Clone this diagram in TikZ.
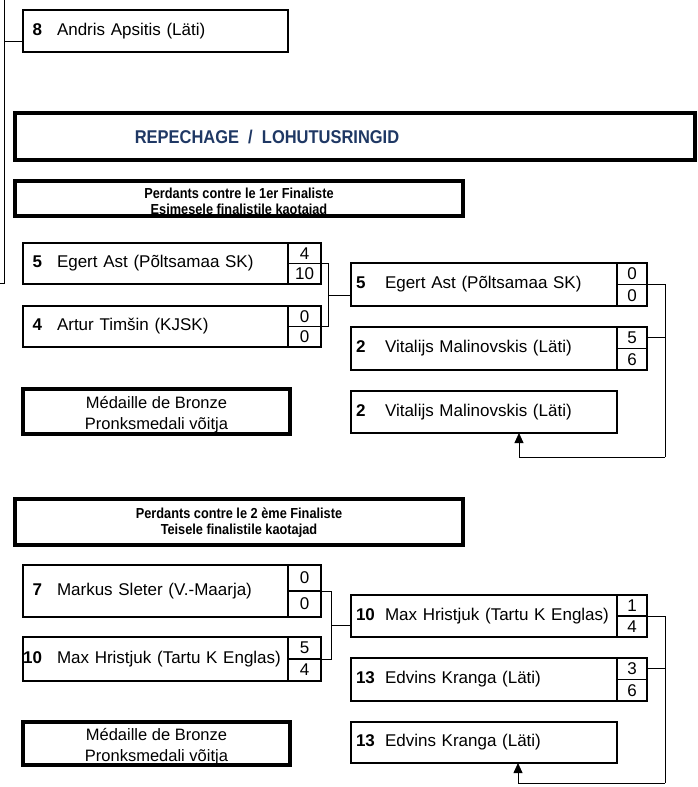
\documentclass[tikz,border=0pt]{standalone}
\usepackage{fontspec}
\usepackage{graphicx}
\setmainfont{Liberation Sans}
\usetikzlibrary{arrows.meta,calc,positioning}

\definecolor{repblue}{RGB}{31,56,100}

\newcommand{\seedL}[1]{\makebox[14pt][r]{\textbf{#1}}\hspace{15pt}}
\newcommand{\seedR}[1]{\makebox[29pt][l]{\textbf{#1}}}
\newcommand{\narrow}[1]{\scalebox{0.88}[1]{#1}}

\begin{document}
\begin{tikzpicture}[
    x=1pt, y=-1pt,
    every node/.style={font=\fontsize{17}{19}\selectfont},
    player/.style={rectangle, draw, line width=1.8pt, anchor=north west, outer sep=0pt,
        minimum width=265pt, minimum height=#1, text width=255pt, inner xsep=5pt, inner ysep=0pt, align=left},
    playerR/.style={player=#1, minimum width=266pt, text width=256pt},
    score/.style={rectangle, draw, line width=1.5pt, anchor=north west, outer sep=0pt,
        minimum width=33pt, minimum height=#1, inner sep=0pt},
    scoreR/.style={score=#1, minimum width=30pt},
    banner/.style={rectangle, draw, line width=4.5pt, anchor=north west, outer sep=0pt},
    htext/.style={font=\bfseries\fontsize{14.5}{16}\selectfont, align=center, inner sep=0pt},
    medal/.style={rectangle, draw, line width=4pt, anchor=north west, outer sep=0pt, minimum width=267pt},
    mtext/.style={font=\fontsize{16.5}{21}\selectfont, align=center, inner sep=0pt},
    link/.style={line width=0.8pt},
    arrow/.style={line width=0.8pt, -{Triangle[width=9pt,length=10pt]}}
]
\useasboundingbox (0,0) rectangle (697,787);

% reste du tableau principal
\coordinate (ltop) at (4,0);
\coordinate (lbot) at (4,283);
\coordinate (lend) at (0,283);
\node[player=42pt] (a8) at (23,10) {\seedL{8}Andris Apsitis (Läti)};
\draw[link] (ltop) -- (lbot) -- (lend);
\draw[link] ([yshift=-10pt]a8.west) -- ([yshift=-10pt]a8.west -| ltop);

% titre
\node[banner, minimum width=680pt, minimum height=47pt] (repbox) at (15,113) {};
\node[font=\bfseries\fontsize{18.5}{20}\selectfont, text=repblue] (reptxt) at (267,137)
    {\scalebox{0.89}[1]{REPECHAGE~~/~~LOHUTUSRINGID}};

% premier groupe
\node[banner, minimum width=448pt, minimum height=35pt] (h1box) at (15,181) {};
\node[htext] (h1txt) at (239,202.5) {\narrow{Perdants contre le 1er Finaliste}\\\narrow{Esimesele finalistile kaotajad}};

\node[player=41pt] (l1) at (23,243) {\seedL{5}Egert Ast (Põltsamaa SK)};
\node[score=20.5pt] (l1a) at (l1.north east) {4};
\node[score=20.5pt] (l1b) at (l1a.south west) {10};
\node[player=41pt] (l2) at (23,306) {\seedL{4}Artur Timšin (KJSK)};
\node[score=20.5pt] (l2a) at (l2.north east) {0};
\node[score=20.5pt] (l2b) at (l2a.south west) {0};

\node[playerR=43pt] (r1) at (351,263) {\seedR{5}Egert Ast (Põltsamaa SK)};
\node[scoreR=21.5pt] (r1a) at (r1.north east) {0};
\node[scoreR=21.5pt] (r1b) at (r1a.south west) {0};
\node[playerR=43pt] (r2) at (351,327) {\seedR{2}Vitalijs Malinovskis (Läti)};
\node[scoreR=21.5pt] (r2a) at (r2.north east) {5};
\node[scoreR=21.5pt] (r2b) at (r2a.south west) {6};

\node[medal, minimum height=45pt] (m1) at (23,389) {};
\node[mtext] (m1txt) at ([yshift=-3pt]m1.center) {Médaille de Bronze\\Pronksmedali võitja};
\node[playerR=42pt] (f1) at (351,391) {\seedR{2}Vitalijs Malinovskis (Läti)};

\draw[link] (l1a.south east) -- ++(7,0) coordinate (k1) |- (l2a.south east);
\coordinate (j1) at ($(k1)!0.5!(k1 |- l2a.south east)$);
\draw[link] (j1) -- (j1 -| r1.west);
\coordinate (b1) at (665,457);
\draw[link] (r1a.south east) -| (b1);
\draw[link] (r2a.east) -- (r2a.east -| b1);
\draw[arrow] (b1) -| ([xshift=35pt]f1.south);

% deuxieme groupe
\node[banner, minimum width=448pt, minimum height=46pt] (h2box) at (15,499) {};
\node[htext] (h2txt) at (239,523) {\narrow{Perdants contre le 2 ème Finaliste}\\\narrow{Teisele finalistile kaotajad}};

\node[player=52pt] (l3) at (23,565) {\seedL{7}Markus Sleter (V.-Maarja)};
\node[score=26pt] (l3a) at (l3.north east) {0};
\node[score=26pt] (l3b) at (l3a.south west) {0};
\node[player=44pt] (l4) at (23,637) {\seedL{10}Max Hristjuk (Tartu K Englas)};
\node[score=22pt] (l4a) at (l4.north east) {5};
\node[score=22pt] (l4b) at (l4a.south west) {4};

\node[playerR=42pt] (r3) at (351,595) {\seedR{10}Max Hristjuk (Tartu K Englas)};
\node[scoreR=21pt] (r3a) at (r3.north east) {1};
\node[scoreR=21pt] (r3b) at (r3a.south west) {4};
\node[playerR=43pt] (r4) at (351,658) {\seedR{13}Edvins Kranga (Läti)};
\node[scoreR=21.5pt] (r4a) at (r4.north east) {3};
\node[scoreR=21.5pt] (r4b) at (r4a.south west) {6};

\node[medal, minimum height=43pt] (m2) at (23,722) {};
\node[mtext] (m2txt) at ([yshift=-3pt]m2.center) {Médaille de Bronze\\Pronksmedali võitja};
\node[playerR=41pt] (f2) at (351,722) {\seedR{13}Edvins Kranga (Läti)};

\draw[link] (l3a.south east) -- ++(10,0) coordinate (k2) |- (l4a.south east);
\coordinate (j2) at ($(k2)!0.5!(k2 |- l4a.south east)$);
\draw[link] (j2) -- (j2 -| r3.west);
\coordinate (b2) at (665,783);
\draw[link] (r3a.south east) -| (b2);
\draw[link] (r4a.east) -- (r4a.east -| b2);
\draw[arrow] (b2) -| ([xshift=34pt]f2.south);

\end{tikzpicture}
\end{document}
